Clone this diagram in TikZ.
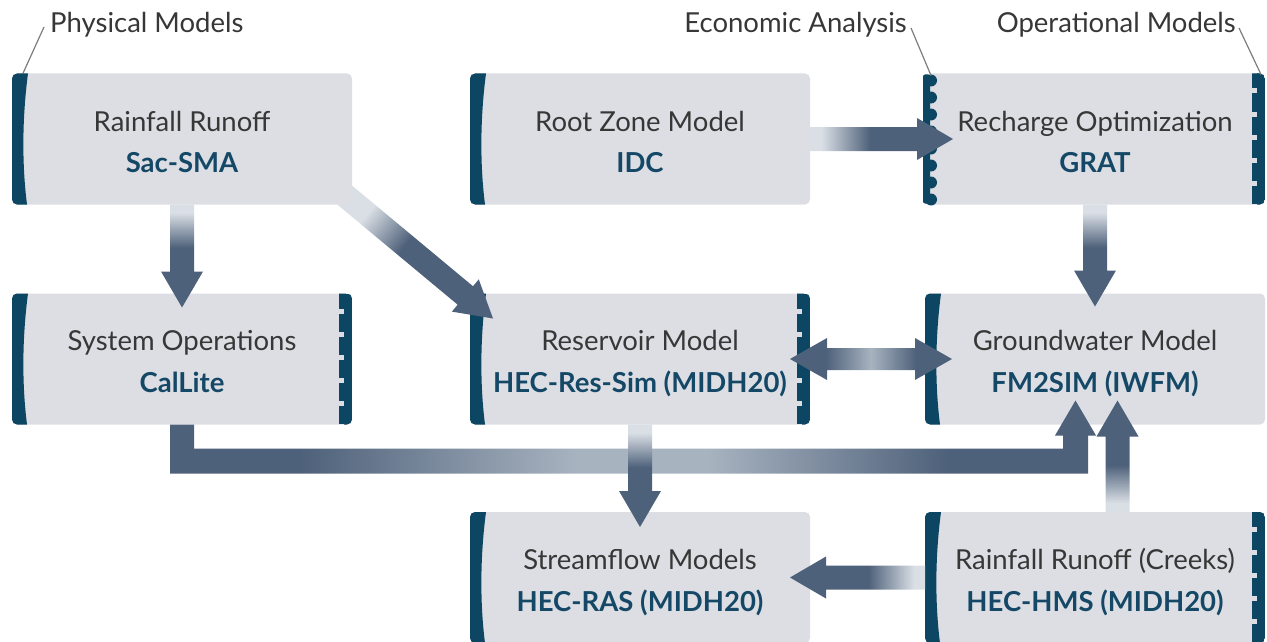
\documentclass[tikz,border=0pt]{standalone}
\usepackage{fontspec}
\setmainfont{Lato}
\usetikzlibrary{calc}
\definecolor{boxgray}{RGB}{220,222,227}
\definecolor{bardark}{RGB}{12,70,99}
\definecolor{tealtext}{RGB}{20,72,102}
\definecolor{textgray}{RGB}{55,55,55}
\definecolor{leadergray}{RGB}{125,125,125}
\definecolor{ardark}{RGB}{78,97,122}
\definecolor{armid}{RGB}{168,179,192}
\definecolor{arlight}{RGB}{218,223,229}
\pgfdeclareverticalshading{fade}{100bp}{color(0bp)=(arlight); color(25bp)=(arlight); color(29bp)=(arlight); color(46bp)=(ardark); color(75bp)=(ardark); color(100bp)=(ardark)}
\pgfdeclarehorizontalshading{fadeboth}{100bp}{color(0bp)=(ardark); color(25bp)=(ardark); color(36bp)=(ardark); color(50bp)=(armid); color(64bp)=(ardark); color(75bp)=(ardark); color(100bp)=(ardark)}
\pgfdeclarehorizontalshading{bentfade}{100bp}{color(0bp)=(ardark); color(25bp)=(ardark); color(32bp)=(ardark); color(47bp)=(armid); color(54bp)=(armid); color(67bp)=(ardark); color(75bp)=(ardark); color(100bp)=(ardark)}
\pgfdeclarelayer{front}
\pgfsetlayers{main,front}
% single fat arrow: start, tip, shading angle
\newcommand{\fatarrow}[3]{%
  \coordinate (fa-s) at #1;
  \coordinate (fa-t) at #2;
  \coordinate (fa-b) at ($(fa-t)!36pt!(fa-s)$);
  \shade[shading=fade, shading angle=#3]
    ($(fa-s)!12pt!90:(fa-t)$) -- ($(fa-b)!12pt!-90:(fa-s)$) -- ($(fa-b)!21pt!-90:(fa-s)$)
    -- (fa-t) -- ($(fa-b)!21pt!90:(fa-s)$) -- ($(fa-b)!12pt!90:(fa-s)$)
    -- ($(fa-s)!12pt!-90:(fa-t)$) -- cycle;}
% double fat arrow: left tip, right tip
\newcommand{\dblarrow}[2]{%
  \coordinate (da-l) at #1;
  \coordinate (da-r) at #2;
  \coordinate (da-bl) at ($(da-l)!37pt!(da-r)$);
  \coordinate (da-br) at ($(da-r)!37pt!(da-l)$);
  \shade[shading=fadeboth]
    (da-l) -- ($(da-bl)!21pt!90:(da-r)$) -- ($(da-bl)!11pt!90:(da-r)$)
    -- ($(da-br)!11pt!-90:(da-l)$) -- ($(da-br)!21pt!-90:(da-l)$) -- (da-r)
    -- ($(da-br)!21pt!90:(da-l)$) -- ($(da-br)!11pt!90:(da-l)$)
    -- ($(da-bl)!11pt!-90:(da-r)$) -- ($(da-bl)!21pt!-90:(da-r)$) -- cycle;}
% wavy left bar (physical)
\newcommand{\wavybar}[1]{%
  \begin{scope}
  \clip[rounded corners=5pt] (#1.north west) rectangle (#1.south east);
  \fill[bardark] let \p1=(#1.north west), \p2=(#1.south west) in
    (\x1-1pt,\y1) -- (\x1+16pt,\y1)
    .. controls (\x1+10pt,{0.65*(\y1)+0.35*(\y2)}) and (\x1+10pt,{0.3*(\y1)+0.7*(\y2)}) ..
    (\x1+15pt,\y2) -- (\x2-1pt,\y2) -- cycle;
  \end{scope}}
% notched right bar (operational)
\newcommand{\notchbar}[1]{%
  \begin{scope}
  \clip[rounded corners=5pt] (#1.north west) rectangle (#1.south east);
  \fill[bardark] ($(#1.north east)+(-8,0)$) rectangle (#1.south east);
  \foreach \k in {0,...,5}{
    \fill[bardark] ($(#1.north east)+(-13,{\k*23-3})$) rectangle ($(#1.north east)+(-6,{\k*23+15})$);}
  \end{scope}}
% scalloped left bar (economic)
\newcommand{\scallopbar}[1]{%
  \fill[bardark, rounded corners=2pt] ($(#1.north west)+(-2,1)$) rectangle ($(#1.south west)+(5,-1)$);
  \foreach \k in {0,...,7}{
    \fill[bardark] ($(#1.north west)+(6,{7+\k*17})$) circle (6pt);}}
\begin{document}
\begin{tikzpicture}[x=1pt,y=-1pt,
  mbox/.style={rectangle, rounded corners=5pt, fill=boxgray, minimum width=340pt,
    minimum height=131pt, inner sep=0pt, outer sep=0pt},
  ttl/.style={font=\fontsize{27.5}{32}\selectfont, text=textgray, inner sep=0pt, anchor=base},
  sub/.style={font=\fontsize{27.5}{32}\selectfont\bfseries, text=tealtext, inner sep=0pt, anchor=base},
  hdr/.style={font=\fontsize{27.5}{32}\selectfont, text=textgray, inner sep=0pt},
  leader/.style={draw=leadergray, line width=1.2pt}]
\useasboundingbox (0,0) rectangle (1267,642);

% boxes
\node[mbox] (B) at (640,139) {};
\node[mbox] (C) at (1095,139) {};
\node[mbox] (D) at (182,359) {};
\node[mbox] (E) at (640,359) {};
\node[mbox] (F) at (1095,359) {};
\node[mbox] (G) at (640,577.5) {};
\node[mbox] (H) at (1095,577.5) {};
\begin{pgfonlayer}{front}
\node[mbox] (A) at (182,139) {};
\wavybar{A}
\node[ttl] (A-t) at ($(A.north)+(0,58)$) {Rainfall Runoff};
\node[sub] (A-s) at ($(A.north)+(0,99)$) {Sac-SMA};
\end{pgfonlayer}

\wavybar{B}
\scallopbar{C}\notchbar{C}
\wavybar{D}\notchbar{D}
\wavybar{E}\notchbar{E}
\wavybar{F}
\wavybar{G}
\wavybar{H}\notchbar{H}

% texts
\node[ttl] (B-t) at ($(B.north)+(0,58)$) {Root Zone Model};
\node[sub] (B-s) at ($(B.north)+(0,99)$) {IDC};
\node[ttl] (C-t) at ($(C.north)+(0,58)$) {Recharge Optimization};
\node[sub] (C-s) at ($(C.north)+(0,99)$) {GRAT};
\node[ttl] (D-t) at ($(D.north)+(0,57)$) {System Operations};
\node[sub] (D-s) at ($(D.north)+(0,99)$) {CalLite};
\node[ttl] (E-t) at ($(E.north)+(0,57)$) {Reservoir Model};
\node[sub] (E-s) at ($(E.north)+(0,99)$) {HEC-Res-Sim (MIDH20)};
\node[ttl] (F-t) at ($(F.north)+(0,57)$) {Groundwater Model};
\node[sub] (F-s) at ($(F.north)+(0,99)$) {FM2SIM (IWFM)};
\node[ttl] (G-t) at ($(G.north)+(0,57)$) {Streamflow Models};
\node[sub] (G-s) at ($(G.north)+(0,99)$) {HEC-RAS (MIDH20)};
\node[ttl] (H-t) at ($(H.north)+(0,57)$) {Rainfall Runoff (Creeks)};
\node[sub] (H-s) at ($(H.north)+(0,99)$) {HEC-HMS (MIDH20)};

% headers
\node[hdr, anchor=base west] (phys) at (50,33) {Physical Models};
\node[hdr, anchor=base east] (econ) at (907,33) {Economic Analysis};
\node[hdr, anchor=base east] (oper) at (1236,33) {Operational Models};
\draw[leader] ($(phys.base west)+(-6,-6)$) -- ($(A.north west)+(10,2)$);
\draw[leader] ($(econ.base east)+(4,-5)$) -- ($(C.north west)+(6,2)$);
\draw[leader] ($(oper.base east)+(3,-5)$) -- ($(C.north east)+(-4,1)$);

% arrows
\fatarrow{(A.south)}{($(D.north)+(0,14)$)}{180}
\fatarrow{($(A.south east)+(-8,-10)$)}{($(E.north west)+(23,25)$)}{-129.5}
\fatarrow{(B.east)}{($(C.west)+(28,0)$)}{-90}
\fatarrow{(C.south)}{($(F.north)+(0,13)$)}{180}
\dblarrow{($(E.east)+(-20,0)$)}{($(F.west)+(27,0)$)}
\shade[shading=bentfade] let \p1=(D.south), \p2=(F.south) in
  (\x1-12pt,\y1) -- (\x1-12pt,\y1-49pt) -- (\x2-7pt,\y1-49pt) -- (\x2-7pt,\y2-11pt)
  -- (\x2+1pt,\y2-11pt) -- (\x2-19.5pt,\y2+24pt) -- (\x2-40pt,\y2-11pt) -- (\x2-32pt,\y2-11pt)
  -- (\x2-32pt,\y1-24pt) -- (\x1+12pt,\y1-24pt) -- (\x1+12pt,\y1) -- cycle;
\fatarrow{(E.south)}{($(G.north)+(0,15)$)}{180}
\fatarrow{($(H.north)+(22.5,0)$)}{($(F.south)+(22.5,-24)$)}{0}
\fatarrow{(H.west)}{($(G.east)+(-20,0)$)}{90}
\end{tikzpicture}
\end{document}
